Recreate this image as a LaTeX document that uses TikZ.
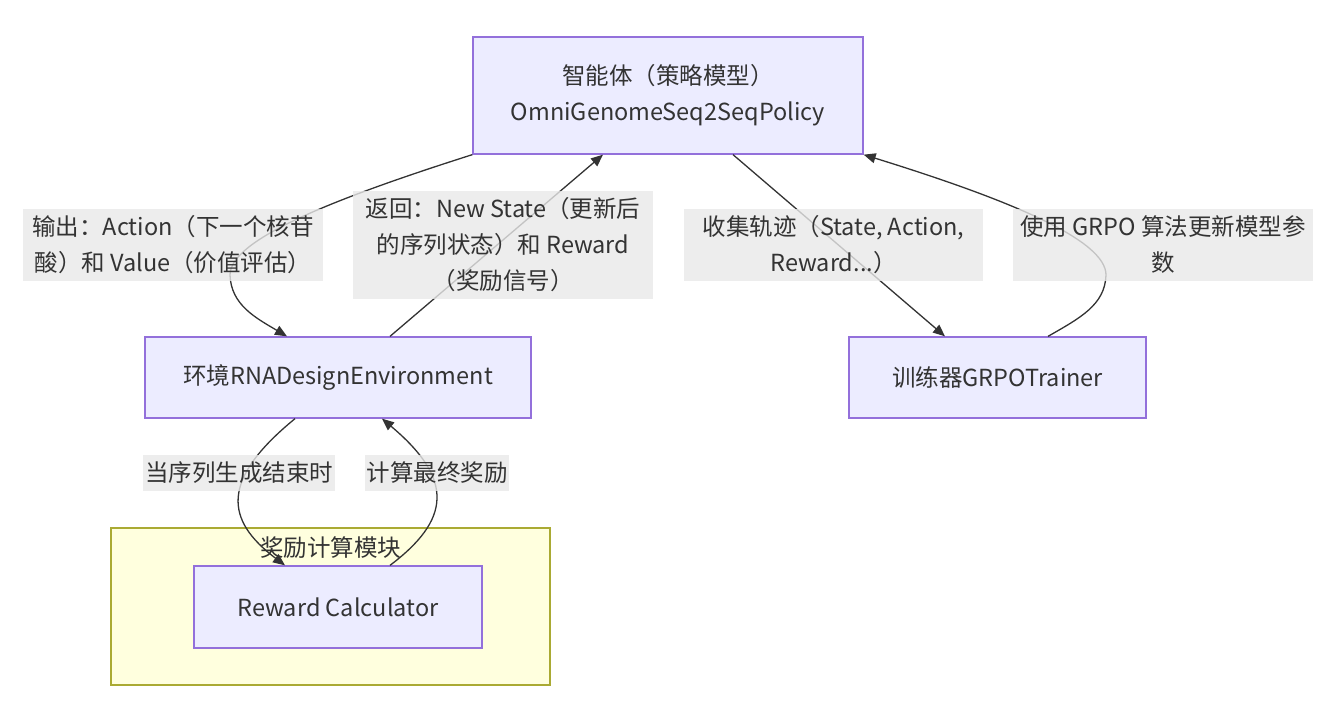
\documentclass[tikz,border=0pt]{standalone}
\usepackage{fontspec}
\setmainfont{Noto Sans CJK SC}
\usetikzlibrary{arrows.meta,calc}
\definecolor{nodefill}{HTML}{ECECFF}
\definecolor{nodeline}{HTML}{9370DB}
\definecolor{clfill}{HTML}{FFFFDE}
\definecolor{clline}{HTML}{AAAA33}
\definecolor{lblfill}{HTML}{E8E8E8}
\definecolor{txt}{HTML}{333333}
\begin{document}
\begin{tikzpicture}[x=1pt,y=-1pt,
  every node/.style={font=\fontsize{23.5}{36}\selectfont, text=txt},
  box/.style={draw=nodeline, fill=nodefill, line width=1.3pt, inner sep=0pt, align=center},
  cluster/.style={draw=clline, fill=clfill, line width=1.3pt, inner sep=0pt},
  lbl/.style={fill=lblfill, fill opacity=0.8, text opacity=1, inner sep=0pt, align=center},
  conn/.style={draw=txt, line width=1.3pt, -{Triangle[length=12pt,width=10pt]}},
]
\path[use as bounding box] (0,0) rectangle (1329,704);

% nodes
\node[box, minimum width=390pt, minimum height=117pt] (agent) at (668,95.5) {智能体（策略模型）\\OmniGenomeSeq2SeqPolicy};
\node[box, minimum width=386pt, minimum height=81pt] (env) at (338,377.5) {环境RNADesignEnvironment};
\node[box, minimum width=297pt, minimum height=81pt] (trainer) at (997.5,377.5) {训练器GRPOTrainer};
\node[cluster, minimum width=439pt, minimum height=157pt] (rcluster) at (330.5,606.5) {};
\node (ctitle) at (330.5,548) {奖励计算模块};
\node[box, minimum width=288pt, minimum height=82pt] (rc) at (338,607) {Reward Calculator};

% connectors
\draw[conn] (agent.south west) .. controls (330,200) and (230,240) .. (230,275)
   .. controls (231,305) and (256,318) .. ([xshift=-51pt]env.north);
\draw[conn] ([xshift=52pt]env.north) -- ([xshift=-65pt]agent.south);
\draw[conn] ([xshift=65pt]agent.south) -- ([xshift=-52.5pt]trainer.north);
\draw[conn] ([xshift=50.5pt]trainer.north) .. controls (1080,318) and (1105,305) .. (1106,275)
   .. controls (1106,240) and (1010,200) .. (agent.south east);
\draw[conn] ([xshift=-43pt]env.south) .. controls (220,480) and (225,520) .. ([xshift=-53pt]rc.north);
\draw[conn] ([xshift=52pt]rc.north) .. controls (450,520) and (455,480) .. ([xshift=44pt]env.south);

% labels
\node[lbl, minimum width=300pt, minimum height=72pt] (l1) at (173,245) {输出：Action（下一个核苷\\酸）和 Value（价值评估）};
\node[lbl, minimum width=300pt, minimum height=108pt] (l2) at (503,245) {返回：New State（更新后\\的序列状态）和 Reward\\（奖励信号）};
\node[lbl, minimum width=299pt, minimum height=72pt] (l3) at (833.5,245) {收集轨迹（State, Action,\\Reward...）};
\node[lbl, minimum width=300pt, minimum height=72pt] (l4) at (1163,245) {使用 GRPO 算法更新模型参\\数};
\node[lbl, minimum width=192pt, minimum height=36pt] (l5) at (239,473) {当序列生成结束时};
\node[lbl, minimum width=144pt, minimum height=36pt] (l6) at (437,473) {计算最终奖励};
\end{tikzpicture}
\end{document}
